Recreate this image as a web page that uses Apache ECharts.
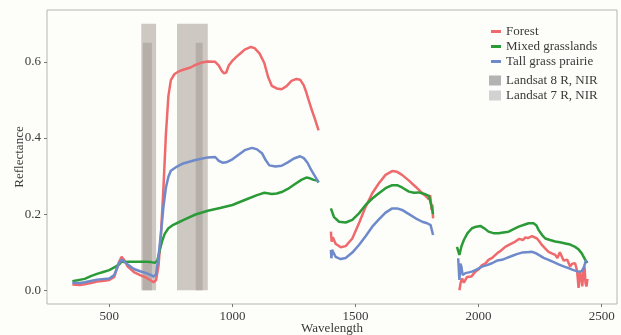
<!DOCTYPE html>
<html>
<head>
<meta charset="utf-8">
<script src="https://cdn.jsdelivr.net/npm/echarts@6/dist/echarts.min.js"></script>
<style>
  html, body { margin: 0; padding: 0; background: #fdfdfa; }
  #chart { width: 621px; height: 335px; }
</style>
</head>
<body>
<div id="chart"></div>
<script>
// spectral curves: [wavelength, reflectance], null pairs break the line at water bands
const forest = [
  [350,0.015],[380,0.014],[400,0.016],[430,0.02],[450,0.023],[480,0.025],[500,0.027],[520,0.035],[540,0.075],[550,0.088],
  [560,0.08],[575,0.062],[600,0.048],[625,0.04],[650,0.033],[670,0.025],[680,0.021],[690,0.027],[700,0.065],[710,0.15],
  [720,0.27],[730,0.41],[740,0.51],[750,0.552],[765,0.568],[780,0.574],[800,0.579],[830,0.585],[850,0.592],[875,0.598],
  [900,0.601],[930,0.6],[945,0.59],[955,0.578],[965,0.57],[975,0.572],[985,0.59],[1000,0.603],[1025,0.618],[1050,0.632],
  [1075,0.639],[1090,0.636],[1110,0.622],[1130,0.596],[1145,0.56],[1160,0.537],[1180,0.53],[1200,0.528],[1220,0.536],
  [1240,0.55],[1260,0.555],[1275,0.553],[1290,0.538],[1300,0.52],[1320,0.478],[1335,0.45],[1350,0.42],
  [1375,null],
  [1400,0.154],[1403,0.128],[1408,0.139],[1419,0.122],[1440,0.113],[1460,0.116],[1487,0.136],[1514,0.176],[1541,0.219],
  [1568,0.255],[1595,0.281],[1622,0.303],[1649,0.313],[1669,0.311],[1689,0.303],[1717,0.288],[1744,0.272],[1771,0.255],
  [1784,0.248],[1798,0.239],[1803,0.25],[1806,0.232],[1809,0.211],[1812,0.225],[1815,0.189],
  [1865,null],
  [1922,0.0],[1927,0.02],[1933,0.031],[1940,0.02],[1946,0.023],[1953,0.035],[1960,0.04],[1970,0.036],[1987,0.049],
  [2000,0.055],[2014,0.066],[2027,0.07],[2040,0.08],[2055,0.085],[2075,0.097],[2090,0.104],[2108,0.114],[2125,0.12],
  [2149,0.128],[2165,0.135],[2180,0.132],[2190,0.139],[2200,0.137],[2217,0.142],[2225,0.138],[2237,0.136],[2247,0.128],
  [2257,0.119],[2270,0.11],[2284,0.101],[2297,0.097],[2311,0.093],[2320,0.085],[2330,0.1],[2338,0.097],[2345,0.078],
  [2352,0.075],[2360,0.08],[2372,0.062],[2380,0.07],[2392,0.071],[2400,0.05],[2406,0.006],[2412,0.049],[2418,0.03],
  [2421,0.01],[2426,0.055],[2430,0.062],[2434,0.02],[2438,0.01],[2442,0.03]
]
const mixed = [
  [350,0.024],[400,0.03],[425,0.037],[450,0.043],[475,0.048],[500,0.053],[520,0.06],[540,0.068],[550,0.076],[560,0.074],
  [580,0.075],[600,0.075],[625,0.075],[650,0.075],[670,0.074],[685,0.072],[695,0.078],[705,0.105],[715,0.13],[725,0.148],
  [740,0.163],[760,0.172],[780,0.178],[800,0.184],[850,0.199],[900,0.209],[950,0.216],[1000,0.224],[1050,0.237],
  [1100,0.25],[1130,0.256],[1160,0.253],[1180,0.254],[1200,0.258],[1225,0.266],[1250,0.277],[1280,0.29],[1300,0.296],
  [1315,0.294],[1330,0.29],[1345,0.288],[1350,0.283],
  [1375,null],
  [1400,0.215],[1412,0.193],[1433,0.18],[1460,0.178],[1487,0.185],[1514,0.202],[1541,0.224],[1568,0.241],[1595,0.255],
  [1622,0.268],[1649,0.276],[1669,0.276],[1689,0.27],[1717,0.259],[1737,0.256],[1757,0.257],[1784,0.252],[1798,0.248],
  [1809,0.22],[1815,0.2],
  [1865,null],
  [1912,0.114],[1922,0.093],[1930,0.115],[1940,0.132],[1955,0.15],[1973,0.163],[1990,0.167],[2007,0.169],[2025,0.162],
  [2040,0.154],[2060,0.15],[2081,0.15],[2100,0.152],[2122,0.154],[2140,0.16],[2163,0.167],[2185,0.172],[2203,0.176],
  [2223,0.176],[2235,0.17],[2244,0.158],[2258,0.145],[2271,0.136],[2290,0.132],[2311,0.128],[2330,0.126],[2352,0.123],
  [2372,0.12],[2392,0.114],[2405,0.108],[2419,0.097],[2433,0.08],[2442,0.072]
]
const tallGrass = [
  [350,0.02],[380,0.019],[400,0.021],[450,0.028],[500,0.031],[520,0.04],[540,0.072],[550,0.08],[560,0.076],[575,0.068],
  [600,0.056],[625,0.05],[650,0.045],[670,0.04],[680,0.036],[690,0.042],[700,0.09],[710,0.15],[720,0.22],[730,0.27],
  [740,0.298],[750,0.314],[775,0.325],[800,0.333],[850,0.342],[900,0.349],[930,0.35],[945,0.34],[960,0.335],[975,0.336],
  [1000,0.344],[1025,0.356],[1050,0.368],[1080,0.374],[1100,0.37],[1120,0.36],[1135,0.342],[1150,0.328],[1175,0.325],
  [1200,0.327],[1225,0.336],[1250,0.346],[1275,0.352],[1290,0.347],[1305,0.335],[1320,0.316],[1335,0.3],[1350,0.284],
  [1375,null],
  [1400,0.106],[1402,0.084],[1405,0.106],[1419,0.088],[1440,0.082],[1460,0.085],[1487,0.099],[1514,0.119],[1541,0.142],
  [1568,0.167],[1595,0.186],[1622,0.204],[1649,0.215],[1669,0.215],[1689,0.211],[1717,0.2],[1744,0.189],[1771,0.18],
  [1791,0.176],[1805,0.171],[1815,0.145],
  [1865,null],
  [1917,0.084],[1922,0.027],[1926,0.07],[1930,0.062],[1935,0.04],[1946,0.045],[1960,0.047],[1973,0.049],[1993,0.055],
  [2014,0.062],[2034,0.066],[2054,0.071],[2075,0.078],[2095,0.08],[2115,0.085],[2135,0.09],[2155,0.095],[2176,0.099],
  [2196,0.1],[2217,0.101],[2230,0.098],[2244,0.093],[2264,0.085],[2284,0.08],[2305,0.074],[2325,0.068],[2345,0.063],
  [2365,0.058],[2385,0.053],[2406,0.049],[2418,0.05],[2426,0.058],[2432,0.07],[2436,0.08]
]

// sensor bands: [start, end] in nm, and bar height
const landsat7Bands = [[630, 690], [775, 900]]
const landsat7Top = 0.70
const landsat8Bands = [[636, 673], [851, 879]]
const landsat8Top = 0.65

const xTicks = [500, 1000, 1500, 2000, 2500]
const yTicks = [0, 0.2, 0.4, 0.6]

const serif = 'Liberation Serif'
const textColor = '#3a3a3a'

function bandRect(color) {
  return function (params, api) {
    const p0 = api.coord([api.value(0), api.value(2)])
    const p1 = api.coord([api.value(1), 0])
    return {
      type: 'rect',
      shape: { x: p0[0], y: p0[1], width: p1[0] - p0[0], height: p1[1] - p0[1] },
      style: { fill: color }
    }
  }
}

function lineSeries(name, data, color) {
  return {
    name: name,
    type: 'line',
    data: data,
    showSymbol: false,
    connectNulls: false,
    z: 5,
    lineStyle: { color: color, width: 2.5 },
    itemStyle: { color: color }
  }
}

const myChart = echarts.init(document.getElementById('chart'))
myChart.setOption({
  backgroundColor: '#fdfdfa',
  animation: false,
  grid: {
    left: 47, right: 4, top: 10, bottom: 31,
    outerBoundsMode: 'none',
    containLabel: false,
    show: true, borderColor: '#b5b5b5', borderWidth: 1, backgroundColor: '#fdfdfa'
  },
  legend: [
    {
      // 折线图例
      data: ['Forest', 'Mixed grasslands', 'Tall grass prairie'],
      orient: 'vertical',
      left: 491, top: 25, padding: 0,
      icon: 'rect',
      itemWidth: 10, itemHeight: 3, itemGap: 2,
      textStyle: { fontFamily: serif, fontSize: 13, color: textColor }
    },
    {
      data: ['Landsat 8 R, NIR', 'Landsat 7 R, NIR'],
      orient: 'vertical',
      left: 489, top: 74, padding: 0,
      icon: 'rect',
      itemWidth: 12, itemHeight: 10, itemGap: 2,
      textStyle: { fontFamily: serif, fontSize: 13, color: textColor }
    }
  ],
  xAxis: {
    type: 'value',
    min: 247, max: 2562,
    name: 'Wavelength',
    nameLocation: 'middle',
    nameGap: 18,
    nameMoveOverlap: false,
    nameTextStyle: { fontFamily: serif, fontSize: 13, color: textColor },
    axisLine: { show: false, onZero: false },
    axisTick: { show: true, length: 3, customValues: xTicks, lineStyle: { color: '#777' } },
    axisLabel: {
      customValues: xTicks, margin: 6, fontFamily: serif, fontSize: 13, color: textColor,
      formatter: function (v) { return String(v) }
    },
    splitLine: { show: false }
  },
  yAxis: {
    type: 'value',
    min: -0.036, max: 0.736,
    name: 'Reflectance',
    nameLocation: 'middle',
    nameGap: 21,
    nameMoveOverlap: false,
    nameTextStyle: { fontFamily: serif, fontSize: 13, color: textColor },
    axisLine: { show: false, onZero: false },
    axisTick: { show: true, length: 3, customValues: yTicks, lineStyle: { color: '#777' } },
    axisLabel: {
      customValues: yTicks, margin: 6, fontFamily: serif, fontSize: 13, color: textColor,
      formatter: function (v) { return v.toFixed(1) }
    },
    splitLine: { show: false }
  },
  series: [
    {
      name: 'Landsat 7 R, NIR',
      type: 'custom',
      renderItem: bandRect('#cec8c3'),
      encode: { x: [0, 1], y: 2 },
      itemStyle: { color: '#d2d2d2' },
      z: 1,
      data: landsat7Bands.map(b => [b[0], b[1], landsat7Top])
    },
    {
      name: 'Landsat 8 R, NIR',
      type: 'custom',
      renderItem: bandRect('#b6aea8'),
      encode: { x: [0, 1], y: 2 },
      itemStyle: { color: '#b3b3b3' },
      z: 2,
      data: landsat8Bands.map(b => [b[0], b[1], landsat8Top])
    },
    lineSeries('Forest', forest, '#ee6a6c'),
    lineSeries('Mixed grasslands', mixed, '#2b9b38'),
    lineSeries('Tall grass prairie', tallGrass, '#6e8acb')
  ]
})
</script>
</body>
</html>
